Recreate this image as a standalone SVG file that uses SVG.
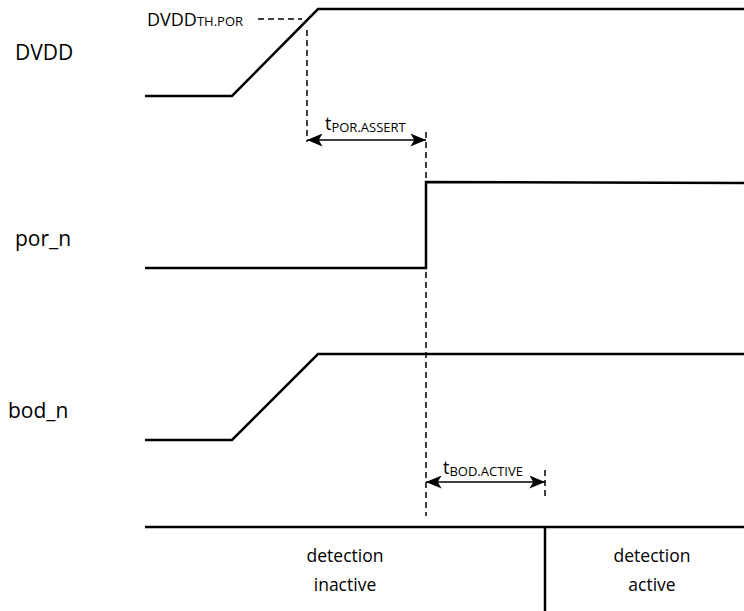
<svg xmlns="http://www.w3.org/2000/svg" width="744" height="611" viewBox="0 0 744 611">
<style>
.sig{fill:none;stroke:#000;stroke-width:2.5}
.dash{fill:none;stroke:#000;stroke-width:1.5;stroke-dasharray:6,4}
.arr{fill:none;stroke:#000;stroke-width:1.5}
text{font-family:"Open Sans","Noto Sans",sans-serif;fill:#000}
.lbl{font-size:21px}
.t{font-size:18px}
.sub{font-size:13px}
.reg{font-size:17.5px;text-anchor:middle}
</style>
<defs>
<marker id="ah" viewBox="0 0 12 10" refX="12" refY="5" markerWidth="16" markerHeight="13" markerUnits="userSpaceOnUse" orient="auto-start-reverse">
<path d="M0,0 L12,5 L0,10 L3,5 z" fill="#000"/>
</marker>
</defs>
<g id="labels">
<text class="lbl" x="15" y="60">DVDD</text>
<text class="lbl" x="15" y="246">por_n</text>
<text class="lbl" x="8" y="418">bod_n</text>
</g>
<g id="dvdd">
<polyline class="sig" points="145,96 232,96 318,9 744,9"/>
</g>
<g id="por_n">
<polyline class="sig" points="145,268 426,268 426,182 744,183"/>
</g>
<g id="bod_n">
<polyline class="sig" points="145,440 232,440 318,354 744,354"/>
</g>
<g id="regions">
<line class="sig" x1="145" y1="527" x2="744" y2="527"/>
<line class="sig" x1="545" y1="527" x2="545" y2="611"/>
<text class="reg" x="345" y="562">detection</text>
<text class="reg" x="345" y="591">inactive</text>
<text class="reg" x="652" y="562">detection</text>
<text class="reg" x="652" y="591">active</text>
</g>
<g id="connectors">
<line class="dash" x1="258" y1="19" x2="302" y2="19"/>
<line class="dash" x1="307" y1="30" x2="307" y2="142"/>
<line class="dash" x1="426" y1="132" x2="426" y2="180"/>
<line class="dash" x1="426" y1="272" x2="426" y2="516"/>
<line class="dash" x1="545" y1="470" x2="545" y2="500"/>
<line class="arr" x1="307" y1="140" x2="426" y2="140" marker-start="url(#ah)" marker-end="url(#ah)"/>
<line class="arr" x1="426" y1="482" x2="545" y2="482" marker-start="url(#ah)" marker-end="url(#ah)"/>
</g>
<g id="annotations">
<text class="t" x="147" y="26">DVDD<tspan class="sub">TH.POR</tspan></text>
<text class="t" x="325" y="130">t<tspan class="sub" dy="2">POR.ASSERT</tspan></text>
<text class="t" x="443" y="474">t<tspan class="sub" dy="2">BOD.ACTIVE</tspan></text>
</g>
</svg>
